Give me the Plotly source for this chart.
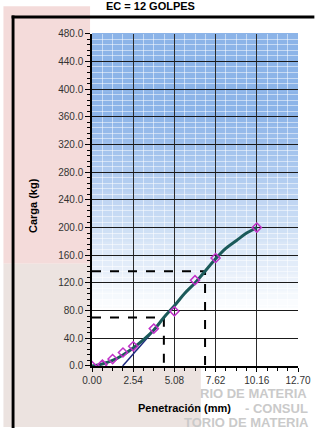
"""CBR - curva carga vs penetración (EC = 12 golpes) — Plotly."""
import plotly.graph_objects as go

penetracion = [0.00, 0.64, 1.27, 1.91, 2.54, 3.81, 5.08, 6.35, 7.62, 10.16]
carga = [0.0, 2.0, 10.0, 19.5, 28.5, 54.0, 79.0, 124.0, 156.0, 200.0]

# curva ajustada
curva_x = [0.00, 0.64, 1.27, 1.91, 2.54, 3.18, 3.81, 4.43, 5.08, 5.72,
           6.35, 6.97, 7.62, 8.25, 8.89, 9.53, 10.16]
curva_y = [0.0, 3.0, 8.0, 16.0, 26.0, 38.0, 52.0, 70.0, 87.0, 105.0,
           120.0, 137.0, 155.0, 170.0, 181.0, 192.0, 200.0]

# tangente de corrección
tangente_x = [1.89, 3.95]
tangente_y = [0.0, 55.0]

# puntos corregidos (2.54 y 5.08 desplazados)
corr_x = [4.43, 6.97]
corr_y = [70.0, 137.0]

x_ticks = [0.00, 2.54, 5.08, 7.62, 10.16, 12.70]

_FONT = "Liberation Sans, Arial, sans-serif"
W, H = 321, 428
L, R, T, B = 92, 15, 10, 62
PLOT_TOP = 28
PW, PH = W - L - R, H - T - B
Y_DOM = (H - B - PLOT_TOP) / PH


def px(xp):
    return (xp - L) / PW


def py(yp):
    return (H - B - yp) / PH


fig = go.Figure()

fig.add_trace(go.Scatter(
    x=tangente_x, y=tangente_y, mode="lines",
    line=dict(color="#1f2a80", width=1.5), hoverinfo="skip",
))
for cx, cy in zip(corr_x, corr_y):
    fig.add_trace(go.Scatter(
        x=[0, cx, cx], y=[cy, cy, 0], mode="lines",
        line=dict(color="black", width=2, dash="dash"), hoverinfo="skip",
    ))
fig.add_trace(go.Scatter(
    x=curva_x, y=curva_y, mode="lines",
    line=dict(color="#1b5a5a", width=3, shape="spline", smoothing=1.0),
))
fig.add_trace(go.Scatter(
    x=penetracion, y=carga, mode="markers",
    marker=dict(symbol="diamond-open", size=7, color="#c030c8",
                line=dict(width=1.5, color="#c030c8")),
))

shapes = []
# fondo (marca de agua aproximada)
shapes.append(dict(type="rect", xref="paper", yref="paper", layer="below",
                   x0=px(0), x1=px(L - 2), y0=py(262), y1=py(0),
                   fillcolor="#f4dbda", line_width=0))
shapes.append(dict(type="rect", xref="paper", yref="paper", layer="below",
                   x0=px(0), x1=px(205), y0=py(H), y1=py(262),
                   fillcolor="#ece3e0", line_width=0))
# degradado del área de trazado
n = 40
for i in range(n):
    f0, f1 = i / n, (i + 1) / n
    t = max(0.0, min(1.0, (f0 - 0.15) / 0.6))
    r = round(255 + (140 - 255) * t)
    g = round(255 + (180 - 255) * t)
    b = round(255 + (232 - 255) * t)
    shapes.append(dict(type="rect", xref="x domain", yref="y domain", layer="below",
                       x0=0, x1=1, y0=f0, y1=f1 + 0.002,
                       fillcolor=f"rgb({r},{g},{b})", line_width=0))
# borde del área del gráfico
shapes.append(dict(type="rect", xref="paper", yref="paper", layer="above",
                   x0=px(8.5), x1=px(W + 2), y0=py(12.5), y1=py(9.5),
                   fillcolor="black", line_width=0))
shapes.append(dict(type="rect", xref="paper", yref="paper", layer="above",
                   x0=px(8.5), x1=px(11.5), y0=py(H + 5), y1=py(9.5),
                   fillcolor="black", line_width=0))


def texto(txt, xc, yc, size, color, angle=0):
    return dict(text=txt, xref="paper", yref="paper", x=px(xc), y=py(yc),
                xanchor="center", yanchor="middle", textangle=angle,
                showarrow=False, font=dict(family=_FONT, size=size, color=color))


annotations = [
    texto("<b>EC = 12 GOLPES</b>", 153, 0, 11, "black"),
    texto("<b>Carga (kg)</b>", 30, 203, 11, "black", -90),
    texto("<b>Penetración (mm)</b>", 188, 409, 11, "black"),
]
# marca de agua en la parte inferior
for txt, xc, yc in [("RIO DE MATERIA", 260, 394), ("- CONSUL", 284, 409),
                    ("TORIO DE MATERIA", 252, 423)]:
    annotations.append(texto(f"<b>{txt}</b>", xc, yc, 13, "#cacaca"))

fig.update_layout(
    width=W, height=H,
    margin=dict(l=L, r=R, t=T, b=B),
    paper_bgcolor="white",
    plot_bgcolor="white",
    showlegend=False,
    shapes=shapes,
    annotations=annotations,
    xaxis=dict(
        range=[0, 12.70], tickvals=x_ticks, tickformat=".2f",
        showgrid=True, gridcolor="#2a2a2a", gridwidth=1.2,
        minor=dict(dtick=0.635, showgrid=True, gridcolor="rgba(255,255,255,0.5)",
                   gridwidth=1, ticks="outside", ticklen=3, tickcolor="black"),
        showline=True, linecolor="black", linewidth=1.5,
        ticks="outside", ticklen=4, tickcolor="black",
        tickfont=dict(family=_FONT, size=10, color="#333333"),
        zeroline=False,
    ),
    yaxis=dict(
        domain=[0, Y_DOM],
        range=[0, 480], dtick=40, tickformat=".1f",
        showgrid=True, gridcolor="#1a1a1a", gridwidth=1.2,
        minor=dict(dtick=8, showgrid=True, gridcolor="rgba(255,255,255,0.5)",
                   gridwidth=1, ticks="outside", ticklen=3, tickcolor="black"),
        showline=True, linecolor="black", linewidth=1.5,
        ticks="outside", ticklen=5, tickcolor="black",
        tickfont=dict(family=_FONT, size=10, color="#333333"),
        zeroline=False,
    ),
)

fig.write_html("out.html", config={"displayModeBar": False},
               post_script="document.body.style.margin='0';")
